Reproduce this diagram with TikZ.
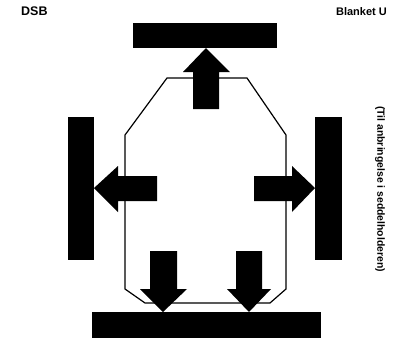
\documentclass[tikz,border=0pt]{standalone}
\usepackage{fontspec}
\setmainfont{Liberation Sans}
\begin{document}
\begin{tikzpicture}[x=1pt,y=-1pt,
  bar/.style={fill=black},
  arrowshape/.style={fill=black},
  outline/.style={draw=black,line width=1.2pt,line join=miter},
  lbl/.style={inner sep=0pt,font=\bfseries}]
\useasboundingbox (0,0) rectangle (400,338);
% labels
\node[lbl,font=\bfseries\fontsize{12.5}{14}\selectfont,anchor=west] (dsb) at (21,11) {DSB};
\node[lbl,font=\bfseries\fontsize{11}{13}\selectfont,anchor=east] (blk) at (387,12) {Blanket U};
\node[lbl,font=\bfseries\fontsize{10.4}{12}\selectfont,rotate=-90] (til) at (380,189) {(Til anbringelse i seddelholderen)};
% outline
\draw[outline] (167,78) -- (247,78) -- (286,135) -- (286,289) -- (270,303) -- (145,303) -- (125,289) -- (125,135) -- cycle;
% bars
\fill[bar] (133,23) rectangle (277,48);
\fill[bar] (68,117) rectangle (94,260);
\fill[bar] (315,117) rectangle (342,260);
\fill[bar] (92,312) rectangle (321,338);
% up arrow
\fill[arrowshape] (206,48) -- (230,72) -- (219,72) -- (219,109) -- (193,109) -- (193,72) -- (183,72) -- cycle;
% left arrow
\fill[arrowshape] (94,188) -- (118,166) -- (118,176) -- (157,176) -- (157,201) -- (118,201) -- (118,212) -- cycle;
% right arrow
\fill[arrowshape] (315,188) -- (292,166) -- (292,176) -- (254,176) -- (254,201) -- (292,201) -- (292,212) -- cycle;
% bottom arrows
\fill[arrowshape] (163,312) -- (187,289) -- (177,289) -- (177,251) -- (150,251) -- (150,289) -- (140,289) -- cycle;
\fill[arrowshape] (249,312) -- (271,289) -- (262,289) -- (262,251) -- (236,251) -- (236,289) -- (227,289) -- cycle;
\end{tikzpicture}
\end{document}
